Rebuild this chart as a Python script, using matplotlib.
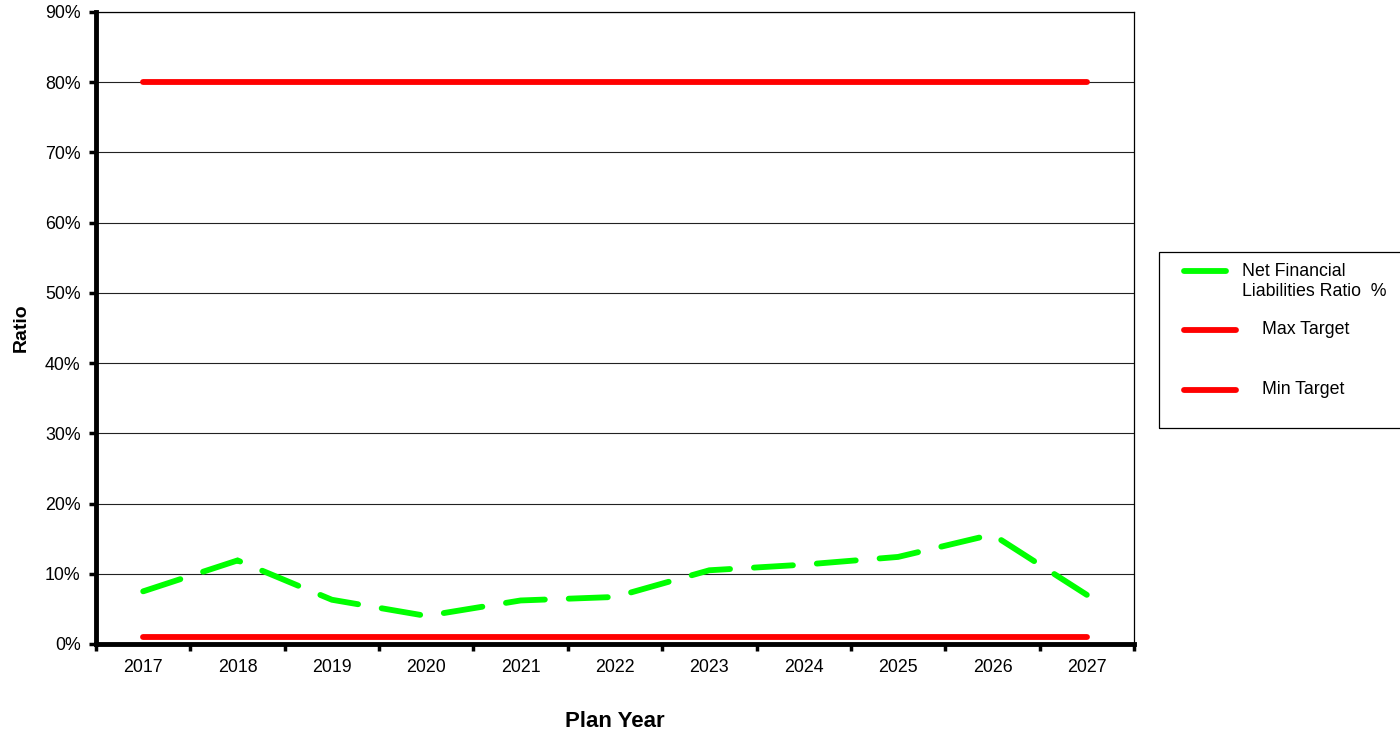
import numpy as np
import matplotlib
matplotlib.use('Agg')
import matplotlib.pyplot as plt
from matplotlib.lines import Line2D
from matplotlib.patches import Rectangle
from matplotlib.ticker import PercentFormatter

plt.rcParams['font.family'] = ['Liberation Sans', 'DejaVu Sans']

years = ['2017', '2018', '2019', '2020', '2021', '2022',
         '2023', '2024', '2025', '2026', '2027']
nfl_ratio = [7.5, 11.9, 6.3, 4.0, 6.2, 6.7, 10.5, 11.3, 12.4, 15.6, 7.0]
max_target = [80] * len(years)
min_target = [1] * len(years)

green = '#00ff00'
red = '#ff0000'
lw = 4.2
fs = 12.8

x = np.arange(len(years))

fig = plt.figure(figsize=(14, 7.32), dpi=100)
ax = fig.add_axes([96/1400, 1-644/732, (1134-96)/1400, (644-12)/732])

ax.plot(x, max_target, color=red, lw=lw, solid_capstyle='round', zorder=3)
ax.plot(x, min_target, color=red, lw=lw, solid_capstyle='round', zorder=3)
ax.plot(x, nfl_ratio, color=green, lw=lw, dashes=(6.7, 4.1),
        dash_capstyle='round', dash_joinstyle='miter', zorder=4)

ax.set_xlim(-0.5, len(years) - 0.5)
ax.set_ylim(0, 90)
ax.set_yticks(np.arange(0, 91, 10))
ax.yaxis.set_major_formatter(PercentFormatter(decimals=0))
ax.grid(axis='y', color='#222222', lw=0.8, zorder=1)

# category labels sit between boundary ticks
ax.set_xticks(np.arange(-0.5, len(years), 1))
ax.set_xticklabels([])
ax.set_xticks(x, minor=True)
ax.set_xticklabels(years, minor=True)
ax.tick_params(axis='x', which='minor', length=0, pad=11, labelsize=fs)
ax.tick_params(axis='x', which='major', length=5, width=2.5, direction='out')
ax.tick_params(axis='y', length=5, width=2.5, direction='out', pad=6, labelsize=fs)

for side in ['left', 'bottom']:
    ax.spines[side].set_linewidth(3.5)
for side in ['top', 'right']:
    ax.spines[side].set_linewidth(0.9)

ax.set_ylabel('Ratio', fontsize=14, fontweight='bold', labelpad=11)
ax.set_xlabel('Plan Year', fontsize=16, fontweight='bold', labelpad=25)

# legend box on the right
fig.add_artist(Rectangle((1159/1400, 1-428/732), 250/1400, 176/732,
                         transform=fig.transFigure, fill=False, lw=0.9,
                         edgecolor='black'))
fig.add_artist(Line2D([1184/1400, 1226/1400], [1-271/732, 1-271/732],
                      color=green, lw=lw, solid_capstyle='round'))
fig.add_artist(Line2D([1184/1400, 1236/1400], [1-330/732, 1-330/732],
                      color=red, lw=lw, solid_capstyle='round'))
fig.add_artist(Line2D([1184/1400, 1236/1400], [1-390/732, 1-390/732],
                      color=red, lw=lw, solid_capstyle='round'))
fig.text(1242/1400, 1-281.5/732, 'Net Financial\nLiabilities Ratio  %',
         fontsize=fs, va='center', ha='left', linespacing=1.3)
fig.text(1262/1400, 1-330/732, 'Max Target', fontsize=fs, va='center', ha='left')
fig.text(1262/1400, 1-390/732, 'Min Target', fontsize=fs, va='center', ha='left')

plt.savefig('out.png', dpi=100)
